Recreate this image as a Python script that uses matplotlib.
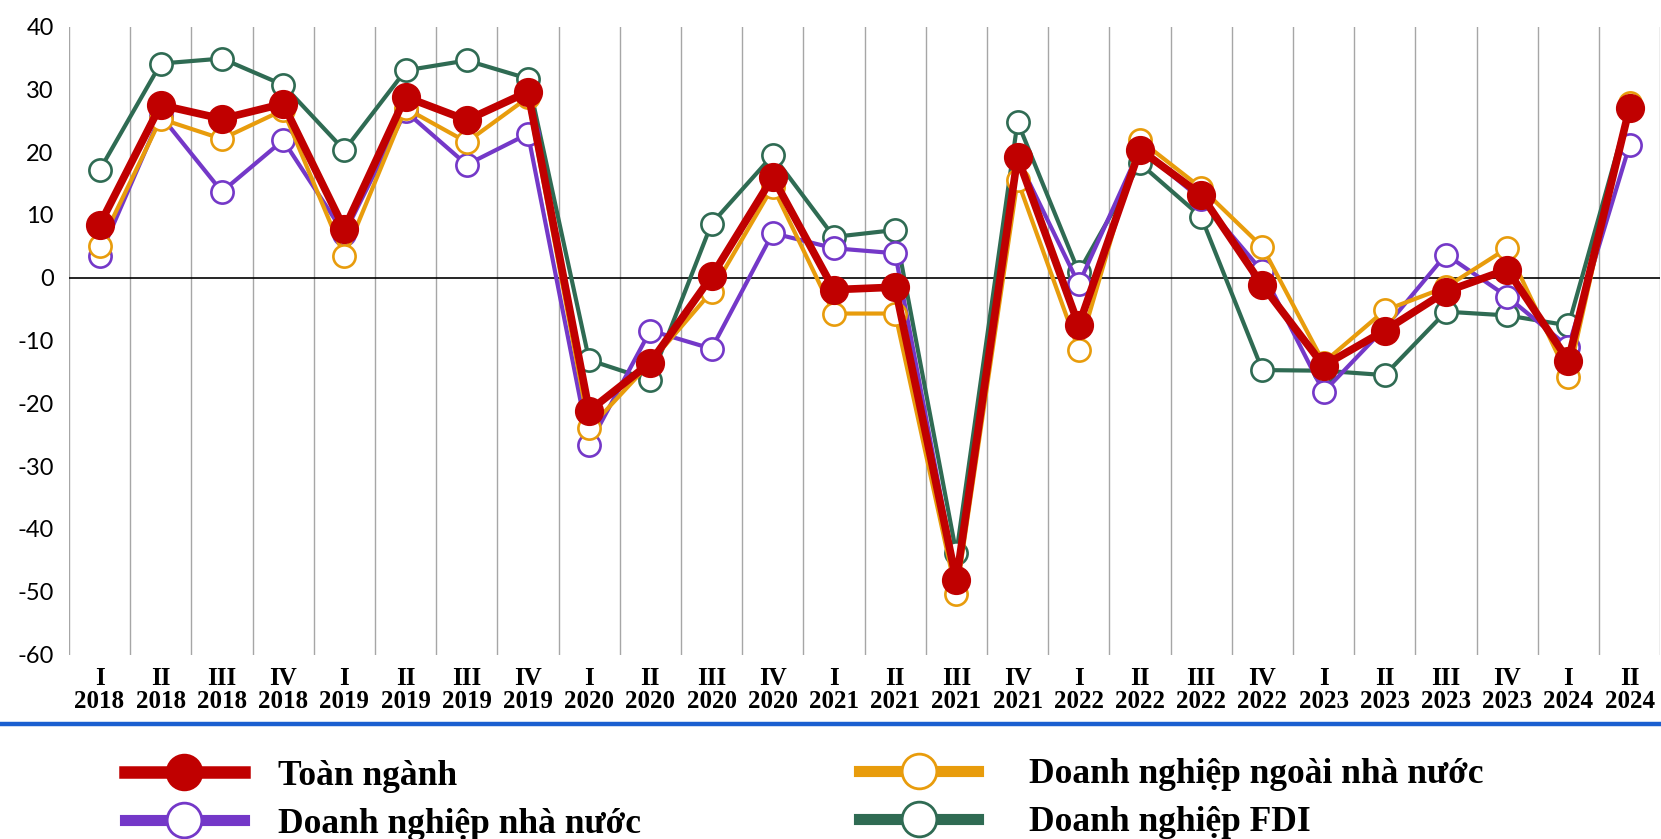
import matplotlib
matplotlib.use("Agg")
import matplotlib.pyplot as plt
from matplotlib.lines import Line2D
import numpy as np

quarters = ["I", "II", "III", "IV", "I", "II", "III", "IV", "I", "II", "III", "IV",
            "I", "II", "III", "IV", "I", "II", "III", "IV", "I", "II", "III", "IV",
            "I", "II"]
years = ["2018"] * 4 + ["2019"] * 4 + ["2020"] * 4 + ["2021"] * 4 + ["2022"] * 4 \
    + ["2023"] * 4 + ["2024"] * 2

toan_nganh = [8.4, 27.5, 25.3, 27.7, 7.8, 28.8, 25.1, 29.6, -21.2, -13.5, 0.2, 16.0,
              -1.9, -1.5, -48.2, 19.2, -7.6, 20.4, 13.2, -1.2, -14.0, -8.4, -2.2, 1.3,
              -13.2, 27.1]
nha_nuoc = [3.4, 25.8, 13.7, 21.9, 7.0, 26.5, 18.0, 22.9, -26.6, -8.4, -11.3, 7.1,
            4.7, 3.9, -48.0, 19.0, -1.0, 20.5, 12.5, 1.0, -18.2, -8.0, 3.7, -3.0,
            -11.0, 21.1]
ngoai_nha_nuoc = [5.1, 25.3, 22.1, 26.7, 3.4, 27.0, 21.6, 28.7, -24.0, -13.5, -2.2, 14.5,
                  -5.7, -5.7, -50.3, 15.5, -11.5, 21.9, 14.3, 4.9, -13.5, -5.2, -1.5, 4.7,
                  -15.8, 27.8]
fdi = [17.1, 34.1, 34.9, 30.7, 20.3, 33.0, 34.6, 31.7, -13.1, -16.3, 8.6, 19.5,
       6.5, 7.6, -43.9, 24.8, 0.9, 18.2, 9.7, -14.7, -14.8, -15.5, -5.4, -6.0,
       -7.6, 27.0]

RED = "#c00000"
PURPLE = "#7438c8"
ORANGE = "#e89c0c"
GREEN = "#2f6b53"

plt.rcParams["axes.unicode_minus"] = False

fig = plt.figure(figsize=(16.61, 8.39), dpi=100)
ax = fig.add_axes([0.0415, 0.2198, 0.958, 0.7486])

x = np.arange(len(quarters))

ax.plot(x, fdi, color=GREEN, lw=3.0, marker="o", ms=16, mfc="white", mec=GREEN, mew=1.9, zorder=3)
ax.plot(x, nha_nuoc, color=PURPLE, lw=3.0, marker="o", ms=16, mfc="white", mec=PURPLE, mew=1.9, zorder=4)
ax.plot(x, ngoai_nha_nuoc, color=ORANGE, lw=3.0, marker="o", ms=16, mfc="white", mec=ORANGE, mew=1.9, zorder=5)
ax.plot(x, toan_nganh, color=RED, lw=5.5, marker="o", ms=20, mfc=RED, mec=RED, zorder=6)

ax.axhline(0, color="black", lw=1.2, zorder=2)

ax.set_xlim(-0.5, len(quarters) - 0.5)
ax.set_ylim(-60, 40)
ax.set_yticks(np.arange(-60, 41, 10))
ax.set_xticks(x)
ax.set_xticklabels([f"{q}\n{y}" for q, y in zip(quarters, years)],
                   fontfamily="Liberation Serif", fontweight="bold", fontsize=18,
                   linespacing=1.0)
ax.set_xticks(np.arange(-0.5, len(quarters), 1), minor=True)
ax.grid(which="minor", axis="x", color="#a6a6a6", lw=1.0)
ax.tick_params(axis="both", which="both", length=0)
ax.tick_params(axis="x", pad=9)
ax.tick_params(axis="y", pad=11)
for lab in ax.get_yticklabels():
    lab.set_fontfamily("Lato")
    lab.set_fontsize(17)
for s in ax.spines.values():
    s.set_visible(False)

# blue separator line
fig.add_artist(Line2D([0, 1], [0.1376, 0.1376], transform=fig.transFigure,
                      color="#1a5fd0", lw=3.2))

# legend
leg_font = {"family": "Liberation Serif", "weight": "bold", "size": 25.5}


def handle(color, filled, lw):
    return Line2D([], [], color=color, lw=lw, marker="o", ms=25,
                  mfc=color if filled else "white", mec=color, mew=2)


h1 = [handle(RED, True, 9), handle(PURPLE, False, 8)]
h2 = [handle(ORANGE, False, 8), handle(GREEN, False, 8)]
common = dict(loc="upper left", frameon=False, prop=leg_font, borderpad=0,
              borderaxespad=0, handlelength=3.35, labelspacing=0.42)
fig.legend(h1, ["Toàn ngành", "Doanh nghiệp nhà nước"],
           bbox_to_anchor=(0.0753, 0.0945), handletextpad=0.97, **common)
fig.legend(h2, ["Doanh nghiệp ngoài nhà nước", "Doanh nghiệp FDI"],
           bbox_to_anchor=(0.5173, 0.0965), handletextpad=1.45, **common)

fig.savefig("out.png", dpi=100, facecolor="white")
